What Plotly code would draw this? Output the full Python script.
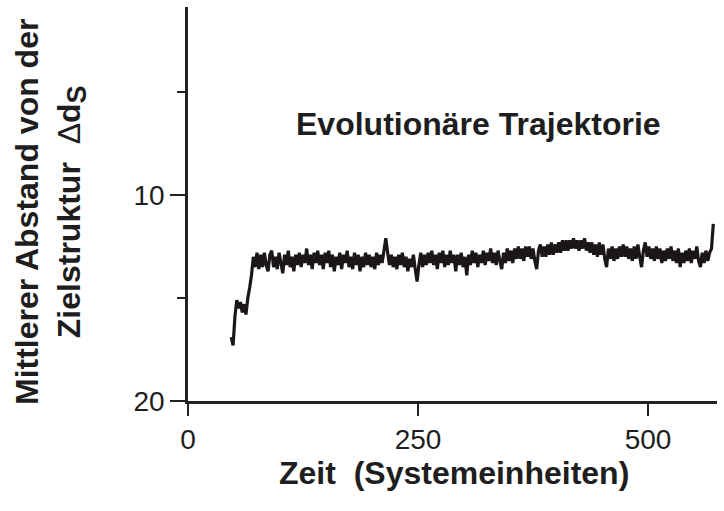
import plotly.graph_objects as go

# time grid (system units) and mean distance values
t_start = 47
t_step = 2
distance = [
    16.9, 17.3, 15.9, 15.1, 15.5, 15.2, 15.7, 15.3, 15.8, 15.0,
    14.5, 13.9, 13.0, 13.5, 12.8, 13.6, 12.9,
    13.5, 12.8, 13.4, 13.7, 12.9, 12.7, 13.5, 13.0, 13.6, 12.8,
    13.3, 13.8, 12.9, 13.4, 12.7, 13.5, 13.0, 13.7, 12.9, 13.4,
    12.8, 13.5, 12.9, 13.3, 12.6, 13.4, 12.9, 13.6, 12.8, 13.3,
    12.7, 13.4, 12.9, 13.6, 12.8, 13.3, 12.7, 13.5, 12.9, 13.7,
    13.0, 13.4, 12.8, 13.6, 12.9, 13.3, 12.7, 13.5, 13.0, 13.6,
    12.8, 13.4, 12.9, 13.7, 13.0, 13.5, 12.8, 13.4, 12.9, 13.5,
    13.0, 13.6, 12.8, 13.4, 12.9, 13.3, 12.7, 12.1, 12.8, 13.4,
    12.9, 13.5, 13.0, 13.6, 12.9, 13.4, 12.8, 13.5, 13.0, 13.7,
    13.1, 13.5, 12.9, 13.6, 14.2, 13.4, 12.8, 13.5, 12.9, 13.4,
    12.8, 13.3, 12.7, 13.4, 12.9, 13.6, 12.8, 13.3, 12.7, 13.5,
    12.9, 13.4, 12.7, 13.3, 12.9, 13.7, 12.9, 13.4, 12.8, 13.5,
    13.0, 13.9, 12.9, 13.4, 12.7, 13.3, 12.8, 13.5, 12.9, 13.3,
    12.7, 13.4, 12.8, 13.2, 12.6, 13.3, 12.8, 13.4, 12.7, 13.2,
    13.6, 12.8, 13.3, 12.6, 13.2, 12.7, 13.3, 12.6, 13.1, 12.5,
    13.1, 12.6, 13.2, 12.5, 13.0, 12.5, 13.1, 12.6, 13.2, 13.6,
    12.7, 12.4, 13.0, 12.5, 13.0, 12.4, 12.9, 12.3, 12.9, 12.4,
    12.8, 12.3, 12.8, 12.2, 12.7, 12.2, 12.7, 12.2, 12.6, 12.1,
    12.6, 12.2, 12.7, 12.2, 12.6, 12.1, 12.7, 12.3, 12.8, 12.3,
    12.9, 12.4, 13.0, 12.3, 12.9, 12.4, 13.1, 13.5, 12.6, 13.1,
    12.5, 13.2, 12.6, 13.1, 12.5, 13.0, 12.4, 13.0, 12.5, 13.1,
    12.6, 13.2, 12.5, 13.1, 12.4, 13.0, 13.5, 12.7, 12.3, 13.0,
    12.5, 13.1, 12.6, 13.2, 12.5, 13.1, 12.6, 13.3, 12.7, 13.2,
    12.6, 13.1, 12.5, 13.2, 12.7, 13.3, 12.6, 13.5, 12.8, 13.3,
    12.7, 13.2, 12.6, 13.3, 12.7, 13.1, 12.5, 13.2, 13.5, 12.8,
    13.3, 12.7, 13.2, 12.8, 12.6, 11.4,
]
time = [t_start + t_step * i for i in range(len(distance))]

x_ticks = [0, 250, 500]
y_major = [10, 20]
y_minor = [5, 15]

x_title = "Zeit\u00a0\u00a0(Systemeinheiten)"
y_title = ("Mittlerer Abstand von der<br>Zielstruktur\u00a0\u00a0"
           "<span style='font-weight:normal'>\u0394</span>d"
           "<sub><span style='font-size:27px'>S</span></sub>")
inner_label = "Evolutionäre Trajektorie"

W, H = 724, 511
L, R, T, B = 188, 7, 7, 110
pw, ph = W - L - R, H - T - B

def px(x):
    return (x - L) / pw

def py(y):
    return (H - B - y) / ph

axis_col = "#222222"
font_reg = dict(family="Liberation Sans, Arial, sans-serif", size=28, color="#1e1e1e")
font_bold = dict(family="Liberation Sans, Arial, sans-serif", size=32, color="#1e1e1e", weight="bold")

fig = go.Figure()
fig.add_trace(go.Scatter(
    x=time, y=distance, mode="lines",
    line=dict(color="#1b1716", width=3.2, simplify=False),
    showlegend=False, hoverinfo="skip",
))

fig.update_layout(
    width=W, height=H,
    margin=dict(l=L, r=R, t=T, b=B, pad=0),
    paper_bgcolor="white", plot_bgcolor="white",
    xaxis=dict(
        range=[0, 575], showgrid=False, zeroline=False,
        showline=True, linecolor=axis_col, linewidth=2.5,
        ticks="outside", tickvals=x_ticks, ticklen=12, tickwidth=2, tickcolor=axis_col,
        tickfont=font_reg,
    ),
    yaxis=dict(
        range=[20, 0.874], showgrid=False, zeroline=False,
        showline=True, linecolor=axis_col, linewidth=2.5,
        ticks="outside", tickvals=y_major, ticklen=15, tickwidth=2, tickcolor=axis_col,
        tickfont=font_reg,
        minor=dict(tickvals=y_minor, ticks="outside", ticklen=8, tickwidth=2, tickcolor=axis_col),
    ),
    annotations=[
        dict(text=inner_label, xref="paper", yref="paper", x=px(478), y=py(124),
             xanchor="center", yanchor="middle", showarrow=False, font=font_bold),
        dict(text=x_title, xref="paper", yref="paper", x=px(454), y=py(473),
             xanchor="center", yanchor="middle", showarrow=False, font=font_bold),
        dict(text=y_title, xref="paper", yref="paper", x=px(50), y=py(212),
             xanchor="center", yanchor="middle", showarrow=False, font=font_bold,
             textangle=-90),
    ],
)

fig.write_html("out.html")
